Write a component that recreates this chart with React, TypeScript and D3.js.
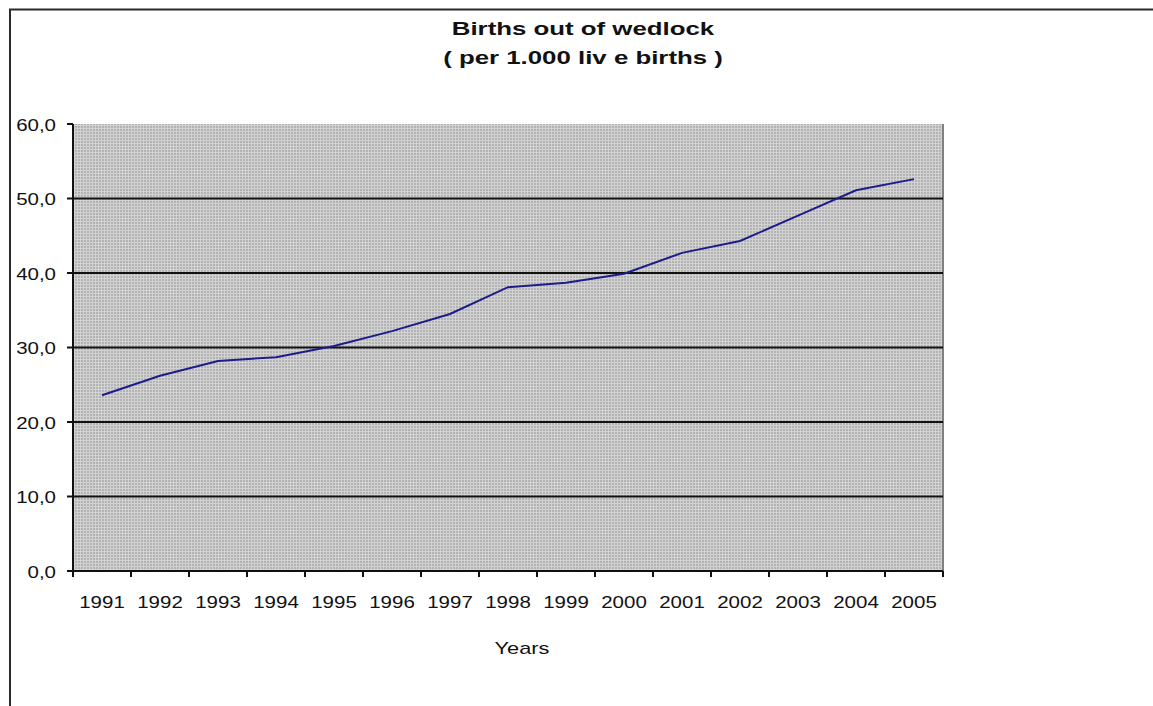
import React from 'react';
import * as d3 from 'd3';

const years = ['1991', '1992', '1993', '1994', '1995', '1996', '1997', '1998', '1999', '2000', '2001', '2002', '2003', '2004', '2005'];
const births = [23.6, 26.2, 28.2, 28.7, 30.2, 32.2, 34.5, 38.1, 38.7, 39.9, 42.7, 44.3, 47.7, 51.1, 52.6];
const yTicks = [0, 10, 20, 30, 40, 50, 60];
const titleLines = ['Births out of wedlock', '( per 1.000 liv e births )'];

const W = 1153;
const H = 706;
const FONT = 'Arial, "Liberation Sans", sans-serif';
const SX = 1.28; // text in the source looks stretched horizontally

export default function App() {
  const plot = { left: 73, right: 943, top: 124, bottom: 571 };

  const x = d3.scaleBand<string>().domain(years).range([plot.left, plot.right]).padding(0);
  const y = d3.scaleLinear().domain([0, 60]).range([plot.bottom, plot.top]);

  const line = d3
    .line<number>()
    .x((_, i) => (x(years[i]) ?? 0) + x.bandwidth() / 2)
    .y((d) => y(d));

  const tickXs = years.map((yr) => x(yr) ?? 0).concat([plot.right]);
  const fmt = (v: number) => v.toFixed(1).replace('.', ',');

  return (
    <svg width={W} height={H} style={{ position: 'absolute', left: 0, top: 0, background: '#fff' }}>
      <defs>
        <pattern id="dots" width={3} height={3} patternUnits="userSpaceOnUse">
          <rect width={3} height={3} fill="#d2d2d2" />
          <rect width={2} height={2} fill="#b3b3b3" />
        </pattern>
      </defs>

      {/* outer chart frame */}
      <rect x={10} y={9.5} width={W + 20} height={H + 20} fill="none" stroke="#2a2a2a" strokeWidth={2} />

      {/* title */}
      {titleLines.map((t, i) => (
        <text
          key={i}
          transform={`translate(583,${35 + i * 29}) scale(1.36,1)`}
          textAnchor="middle"
          fontFamily={FONT}
          fontWeight="bold"
          fontSize={19}
          fill="#111"
        >
          {t}
        </text>
      ))}

      {/* plot area */}
      <rect x={plot.left} y={plot.top} width={plot.right - plot.left} height={plot.bottom - plot.top} fill="url(#dots)" />
      <line x1={plot.right} x2={plot.right} y1={plot.top} y2={plot.bottom} stroke="#808080" strokeWidth={2} />

      {/* gridlines */}
      {yTicks.filter((t) => t > 0 && t < 60).map((t) => (
        <line key={t} x1={plot.left} x2={plot.right} y1={y(t)} y2={y(t)} stroke="#111" strokeWidth={2} />
      ))}

      {/* data line */}
      <path d={line(births) || undefined} fill="none" stroke="#1c1c8a" strokeWidth={2} />

      {/* y axis */}
      <line x1={plot.left} x2={plot.left} y1={plot.top} y2={plot.bottom + 6} stroke="#111" strokeWidth={2} />
      {yTicks.map((t) => (
        <g key={t}>
          <line x1={plot.left - 6} x2={plot.left} y1={y(t)} y2={y(t)} stroke="#111" strokeWidth={2} />
          <text
            transform={`translate(56,${y(t) + 6.5}) scale(${SX},1)`}
            textAnchor="end"
            fontFamily={FONT}
            fontSize={16}
            fill="#111"
          >
            {fmt(t)}
          </text>
        </g>
      ))}

      {/* x axis */}
      <line x1={plot.left - 6} x2={plot.right} y1={plot.bottom} y2={plot.bottom} stroke="#111" strokeWidth={2} />
      {tickXs.map((tx, i) => (
        <line key={i} x1={tx} x2={tx} y1={plot.bottom} y2={plot.bottom + 6} stroke="#111" strokeWidth={2} />
      ))}
      {years.map((yr) => (
        <text
          key={yr}
          transform={`translate(${(x(yr) ?? 0) + x.bandwidth() / 2},${608}) scale(${SX},1)`}
          textAnchor="middle"
          fontFamily={FONT}
          fontSize={16}
          fill="#111"
        >
          {yr}
        </text>
      ))}

      <text transform={`translate(522,654) scale(${SX},1)`} textAnchor="middle" fontFamily={FONT} fontSize={17} fill="#111">
        Years
      </text>
    </svg>
  );
}
